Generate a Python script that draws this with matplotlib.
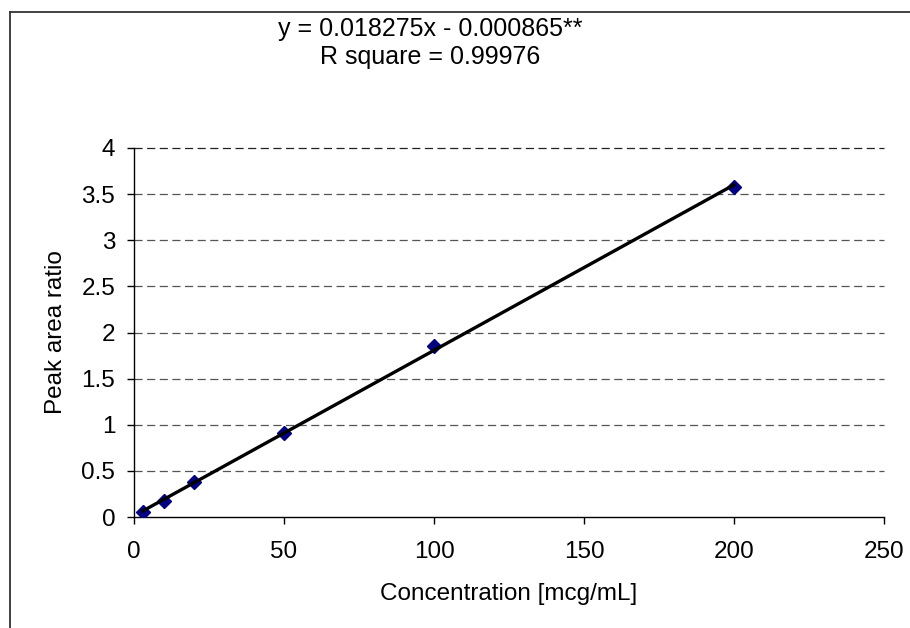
import numpy as np
import matplotlib.pyplot as plt
from matplotlib.lines import Line2D

plt.rcParams['font.family'] = ['Liberation Sans', 'DejaVu Sans']

# calibration standards
concentration = [3, 10, 20, 50, 100, 200]
peak_ratio = [0.057, 0.177, 0.376, 0.907, 1.85, 3.58]

equation_text = "y = 0.018275x - 0.000865**"
r2_text = "R square = 0.99976"

x_ticks = [0, 50, 100, 150, 200, 250]
y_ticks = [0, 0.5, 1, 1.5, 2, 2.5, 3, 3.5, 4]
y_tick_labels = ['0', '0.5', '1', '1.5', '2', '2.5', '3', '3.5', '4']

FS = 17.5
W, H = 910, 628
fig = plt.figure(figsize=(W / 100, H / 100), dpi=100)
ax = fig.add_axes([134 / W, 1 - 517 / H, 750 / W, 369 / H])

# chart frame (left and top edges)
fx, fy = 10 / W, 1 - 11.5 / H
fig.add_artist(Line2D([fx, fx], [0, fy], transform=fig.transFigure,
                      color='#333333', lw=1.3))
fig.add_artist(Line2D([fx, 1], [fy, fy], transform=fig.transFigure,
                      color='#333333', lw=1.3))

# linear trendline through the standards
slope, intercept = np.polyfit(concentration, peak_ratio, 1)
xs = np.array([min(concentration), max(concentration)])
ax.plot(xs, slope * xs + intercept, color='black', lw=2.4, zorder=4)

ax.plot(concentration, peak_ratio, linestyle='none', marker='D', markersize=7,
        color='#000080', zorder=3)

ax.set_xlim(0, 250)
ax.set_ylim(0, 4)
ax.set_xticks(x_ticks)
ax.set_yticks(y_ticks)
ax.set_yticklabels(y_tick_labels)

for y in y_ticks[1:]:
    ax.axhline(y, color='#222222' if y == 4 else '#555555', lw=0.9,
               dashes=(6.5, 3.6), zorder=1, clip_on=False)

for side in ['top', 'right']:
    ax.spines[side].set_visible(False)
for side in ['left', 'bottom']:
    ax.spines[side].set_color('black')
    ax.spines[side].set_linewidth(1.0)

ax.tick_params(axis='both', direction='out', length=5, width=1.0, colors='black',
               labelsize=FS)
ax.tick_params(axis='x', pad=12.5)
ax.tick_params(axis='y', pad=8.5)

ax.set_xlabel('Concentration [mcg/mL]', fontsize=FS, labelpad=14)
ax.set_ylabel('Peak area ratio', fontsize=FS, labelpad=10)

fig.text(430 / W, 1 - 29 / H, equation_text, ha='center', va='center', fontsize=18)
fig.text(430 / W, 1 - 57 / H, r2_text, ha='center', va='center', fontsize=18)

fig.savefig('out.png', dpi=100, facecolor='white')
